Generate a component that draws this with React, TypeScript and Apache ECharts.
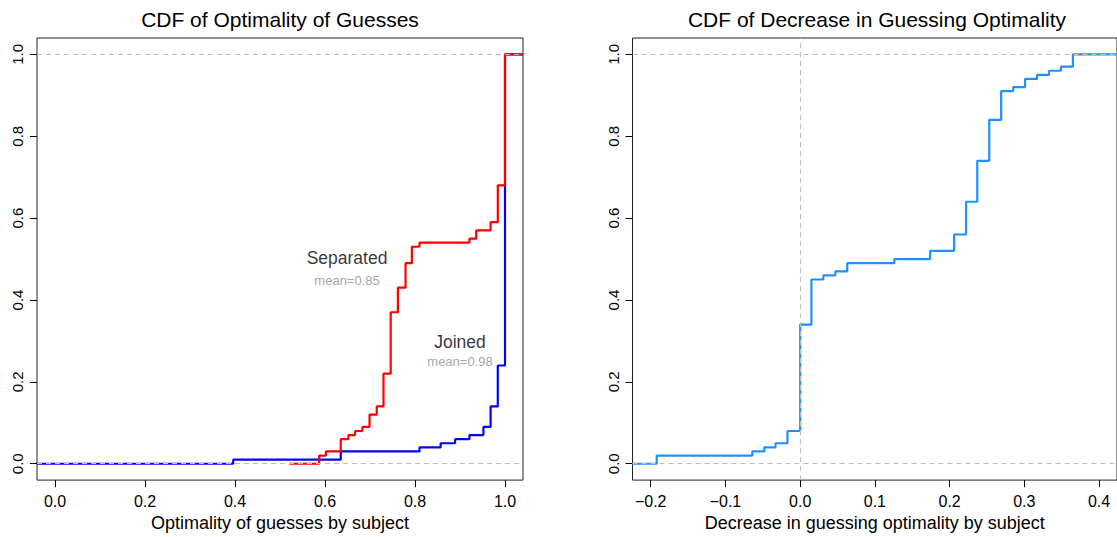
import React, { useEffect, useRef } from "react";
import * as echarts from "echarts";

// ---- data ----
const tickValsLeft = [0, 0.2, 0.4, 0.6, 0.8, 1.0];
const tickValsRight = [-0.2, -0.1, 0, 0.1, 0.2, 0.3, 0.4];
const tickValsY = [0, 0.2, 0.4, 0.6, 0.8, 1.0];

// Separated (red) ECDF
const sepStart = 0.521;
const sepKnots = [0.587, 0.602, 0.635, 0.652, 0.667, 0.683, 0.699, 0.715, 0.730, 0.746, 0.762, 0.779, 0.793, 0.810, 0.921, 0.936, 0.968, 0.984, 1.0];
const sepCdf = [0.02, 0.03, 0.06, 0.07, 0.08, 0.09, 0.12, 0.14, 0.22, 0.37, 0.43, 0.49, 0.53, 0.54, 0.55, 0.57, 0.59, 0.68, 1.0];

// Joined (blue) ECDF
const joinStart = -0.04;
const joinKnots = [0.396, 0.635, 0.810, 0.857, 0.889, 0.921, 0.952, 0.968, 0.984, 1.0];
const joinCdf = [0.01, 0.03, 0.04, 0.05, 0.06, 0.07, 0.09, 0.14, 0.24, 1.0];

// Decrease in guessing optimality ECDF
const decStart = -0.2244;
const decKnots = [-0.192, -0.064, -0.048, -0.033, -0.017, 0, 0.015, 0.031, 0.047, 0.063, 0.126, 0.174, 0.206, 0.222, 0.237, 0.253, 0.269, 0.285, 0.301, 0.317, 0.333, 0.349, 0.365];
const decCdf = [0.02, 0.03, 0.04, 0.05, 0.08, 0.34, 0.45, 0.46, 0.47, 0.49, 0.50, 0.52, 0.56, 0.64, 0.74, 0.84, 0.91, 0.92, 0.94, 0.95, 0.96, 0.97, 1.0];

const leftXRange = [-0.04, 1.04];
const rightXRange = [-0.2244, 0.424];
const yRange = [-0.04, 1.04];

const annotations = [
  { name: "Separated", x: 0.649, y: 0.502, size: 17.5, color: "#000000" },
  { name: "mean=0.85", x: 0.649, y: 0.448, size: 13, color: "#8c8c8c" },
  { name: "Joined", x: 0.9, y: 0.298, size: 17.5, color: "#000000" },
  { name: "mean=0.98", x: 0.9, y: 0.25, size: 13, color: "#8c8c8c" },
];

const FONT = "'Liberation Sans', Arial, Helvetica, sans-serif";

function stepData(start: number, knots: number[], cdf: number[], end: number) {
  const pts: number[][] = [[start, 0]];
  knots.forEach((k, i) => pts.push([k, cdf[i]]));
  pts.push([end, cdf[cdf.length - 1]]);
  return pts;
}

const fmt = (v: number) => (v < 0 ? "\u2212" + Math.abs(v).toFixed(1) : v.toFixed(1));

function xAxisCfg(gridIndex: number, range: number[], ticks: number[], name: string) {
  return {
    type: "value",
    gridIndex,
    min: range[0],
    max: range[1],
    axisLine: { show: false, onZero: false },
    splitLine: { show: false },
    axisTick: { show: true, inside: false, length: 7, customValues: ticks, lineStyle: { color: "#000", width: 1 } },
    axisLabel: { customValues: ticks, formatter: fmt, fontSize: 16, color: "#000", margin: 13, fontFamily: FONT, showMinLabel: true, showMaxLabel: true },
    name,
    nameLocation: "middle",
    nameGap: 30,
    nameTextStyle: { fontSize: 18, color: "#000", fontFamily: FONT },
  };
}

function yAxisCfg(gridIndex: number) {
  return {
    type: "value",
    gridIndex,
    min: yRange[0],
    max: yRange[1],
    axisLine: { show: false, onZero: false },
    splitLine: { show: false },
    axisTick: { show: true, inside: false, length: 7, customValues: tickValsY, lineStyle: { color: "#000", width: 1 } },
    axisLabel: { customValues: tickValsY, formatter: fmt, fontSize: 15, color: "#000", margin: 12, rotate: 90, fontFamily: FONT },
  };
}

const dashStyle = { color: "#bdbdbd", type: [5, 4] as any, width: 1 };

export default function App() {
  const ref = useRef<HTMLDivElement>(null);
  useEffect(() => {
    if (!ref.current) return;
    const chart = echarts.init(ref.current, undefined, { renderer: "svg" });
    chart.setOption({
      animation: false,
      backgroundColor: "#ffffff",
      textStyle: { fontFamily: FONT },
      grid: [
        { left: 37, right: 594, top: 38, bottom: 52, show: true, borderColor: "#222", borderWidth: 1, backgroundColor: "transparent" },
        { left: 632.5, right: -4, top: 38, bottom: 52, show: true, borderColor: "#222", borderWidth: 1, backgroundColor: "transparent" },
      ],
      xAxis: [
        xAxisCfg(0, leftXRange, tickValsLeft, "Optimality of guesses by subject"),
        xAxisCfg(1, rightXRange, tickValsRight, "Decrease in guessing optimality by subject"),
      ],
      yAxis: [yAxisCfg(0), yAxisCfg(1)],
      graphic: [
        { type: "text", x: 280, y: 19, style: { text: "CDF of Optimality of Guesses", font: `21px ${FONT}`, fill: "#000", align: "center", verticalAlign: "middle" } },
        { type: "text", x: 877, y: 19, style: { text: "CDF of Decrease in Guessing Optimality", font: `21px ${FONT}`, fill: "#000", align: "center", verticalAlign: "middle" } },
      ],
      series: [
        {
          name: "Joined",
          type: "line",
          xAxisIndex: 0,
          yAxisIndex: 0,
          step: "end",
          symbol: "none",
          data: stepData(joinStart, joinKnots, joinCdf, leftXRange[1]),
          lineStyle: { color: "#0000ff", width: 2.2 },
          z: 2,
        },
        {
          name: "Separated",
          type: "line",
          xAxisIndex: 0,
          yAxisIndex: 0,
          step: "end",
          symbol: "none",
          data: stepData(sepStart, sepKnots, sepCdf, leftXRange[1]),
          lineStyle: { color: "#ff0000", width: 2.2 },
          z: 3,
        },
        {
          name: "refLeft",
          type: "line",
          xAxisIndex: 0,
          yAxisIndex: 0,
          data: [],
          z: 5,
          markLine: { silent: true, symbol: "none", label: { show: false }, lineStyle: dashStyle, data: [{ yAxis: 0 }, { yAxis: 1 }] },
        },
        {
          name: "labels",
          type: "scatter",
          xAxisIndex: 0,
          yAxisIndex: 0,
          symbolSize: 1,
          itemStyle: { color: "rgba(0,0,0,0)" },
          silent: true,
          z: 6,
          data: annotations.map((a) => ({
            value: [a.x, a.y],
            label: { show: true, position: "inside", formatter: a.name, fontSize: a.size, color: a.color, fontFamily: FONT },
          })),
        },
        {
          name: "Decrease",
          type: "line",
          xAxisIndex: 1,
          yAxisIndex: 1,
          step: "end",
          symbol: "none",
          data: stepData(decStart, decKnots, decCdf, rightXRange[1]),
          lineStyle: { color: "#1e90ff", width: 2.2 },
          z: 3,
        },
        {
          name: "refRight",
          type: "line",
          xAxisIndex: 1,
          yAxisIndex: 1,
          data: [],
          z: 5,
          markLine: { silent: true, symbol: "none", label: { show: false }, lineStyle: dashStyle, data: [{ yAxis: 0 }, { yAxis: 1 }, { xAxis: 0 }] },
        },
      ],
    });
    return () => chart.dispose();
  }, []);
  return <div ref={ref} style={{ position: "fixed", left: 0, top: 0, width: 1117, height: 537 }} />;
}
